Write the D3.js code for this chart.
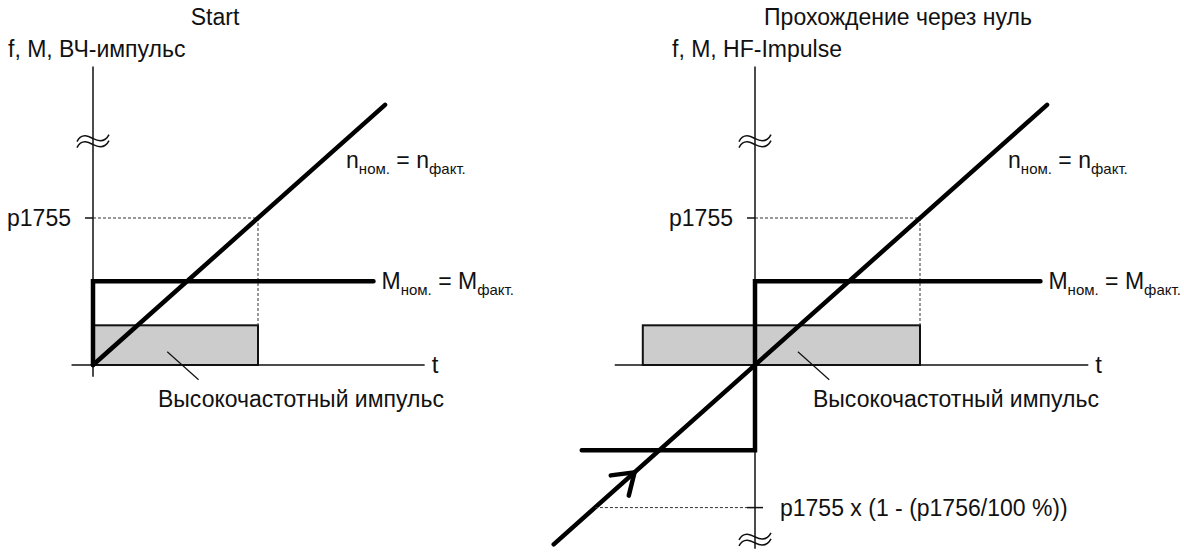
<!DOCTYPE html>
<html>
<head>
<meta charset="utf-8">
<script src="https://cdnjs.cloudflare.com/ajax/libs/d3/7.8.5/d3.min.js"></script>
<style>
  body { margin: 0; background: #fff; }
  text { font-family: "Liberation Sans", Arial, sans-serif; fill: #111; }
</style>
</head>
<body>
<div id="chart"></div>
<script>
// values, in units of p1755 (y) and pulse length (t)
const titles = ["Start", "Прохождение через нуль"];
const yLabels = ["f, M, ВЧ-импульс", "f, M, HF-Impulse"];
const pulseLabel = "Высокочастотный импульс";
const lowLabel = "p1755 x (1 - (p1756/100 %))";
const levelP1755 = 1;
const levelLow = -0.97;

// left panel: start
const leftN = [[0, 0], [1.77, 1.77]];
const leftM = [[0, 0], [0, 0.57], [1.70, 0.57]];
const leftPulse = [0, 1, 0.27];         // t from, t to, height
const leftAxisX = [-0.13, 2.01];
const leftAxisY = [-0.08, 2.03];
const leftBreaks = [1.52];
const leftPointer = [0.45, 0.64];

// right panel: zero crossing
const rightN = [[-1.22, -1.22], [1.77, 1.77]];
const rightM = [[-1.05, -0.58], [0, -0.58], [0, 0.57], [1.73, 0.57]];
const rightPulse = [-0.68, 1, 0.27];
const rightAxisX = [-0.85, 2.02];
const rightAxisY = [-1.25, 2.03];
const rightBreaks = [1.52, -1.19];
const rightPointer = [0.26, 0.45];
const arrowAt = -0.73;

const width = 1184, height = 558;
const fs = 23, fsSub = 15;
const svg = d3.select("#chart").append("svg")
    .attr("width", width)
    .attr("height", height);

const y = d3.scaleLinear().domain([0, 1]).range([365, 218]);

function eqLabel(g, x0, y0, main, sub1, sub2) {
    const t = g.append("text").attr("x", x0).attr("y", y0).attr("font-size", fs);
    t.append("tspan").text(main);
    t.append("tspan").attr("font-size", fsSub).attr("dy", 6).text(sub1);
    t.append("tspan").attr("dy", -6).text(" = " + main);
    t.append("tspan").attr("font-size", fsSub).attr("dy", 6).text(sub2);
}

function drawPanel(p) {
    const x = d3.scaleLinear().domain([0, 1]).range([p.x0, p.x0 + 165]);
    const g = svg.append("g");
    const line = d3.line().x(d => x(d[0])).y(d => y(d[1]));

    // pulse rectangle
    g.append("rect")
        .attr("x", x(p.pulse[0]))
        .attr("y", y(p.pulse[2]))
        .attr("width", x(p.pulse[1]) - x(p.pulse[0]))
        .attr("height", y(0) - y(p.pulse[2]))
        .attr("fill", "#cccccc")
        .attr("stroke", "#111")
        .attr("stroke-width", 2);

    // dashed guides to p1755
    g.append("path")
        .attr("d", line([[0, levelP1755], [1, levelP1755], [1, p.pulse[2]]]))
        .attr("fill", "none")
        .attr("stroke", "#333")
        .attr("stroke-width", 1)
        .attr("stroke-dasharray", "3,2");

    // axes
    g.append("line")
        .attr("x1", x(p.axisX[0])).attr("x2", x(p.axisX[1]))
        .attr("y1", y(0)).attr("y2", y(0))
        .attr("stroke", "#111").attr("stroke-width", 1.5);
    g.append("line")
        .attr("x1", x(0)).attr("x2", x(0))
        .attr("y1", y(p.axisY[0])).attr("y2", y(p.axisY[1]))
        .attr("stroke", "#111").attr("stroke-width", 1.5);

    // p1755 tick
    g.append("line")
        .attr("x1", x(0) - 8).attr("x2", x(0))
        .attr("y1", y(levelP1755)).attr("y2", y(levelP1755))
        .attr("stroke", "#111").attr("stroke-width", 1.5);
    g.append("text")
        .attr("x", x(0) - 22).attr("y", y(levelP1755) + 8)
        .attr("text-anchor", "end")
        .attr("font-size", fs)
        .text("p1755");

    // axis breaks
    p.breaks.forEach(b => {
        const cx = x(0), cy = y(b);
        [-3, 3].forEach(off => {
            g.append("path")
                .attr("d", `M${cx - 16},${cy + off + 3} C${cx - 11},${cy + off - 7} ${cx - 2},${cy + off - 1} ${cx},${cy + off}` +
                    ` S${cx + 11},${cy + off + 6} ${cx + 16},${cy + off - 4}`)
                .attr("fill", "none")
                .attr("stroke", "#111")
                .attr("stroke-width", 1.5);
        });
    });

    // M and n curves
    g.append("path")
        .attr("d", line(p.M))
        .attr("fill", "none").attr("stroke", "#000")
        .attr("stroke-width", 4.5)
        .attr("stroke-linecap", "round").attr("stroke-linejoin", "miter");
    g.append("path")
        .attr("d", line(p.N))
        .attr("fill", "none").attr("stroke", "#000")
        .attr("stroke-width", 4.5)
        .attr("stroke-linecap", "round");

    // pointer to pulse label
    g.append("line")
        .attr("x1", x(p.pointer[0])).attr("y1", y(0.09))
        .attr("x2", x(p.pointer[1])).attr("y2", y(-0.1))
        .attr("stroke", "#111").attr("stroke-width", 1.2);
    g.append("text")
        .attr("x", x(0) + p.pulseLabelOff).attr("y", y(0) + 42)
        .attr("font-size", fs)
        .text(pulseLabel);

    // "t"
    g.append("text")
        .attr("x", x(p.axisX[1]) + 7).attr("y", y(0) + 8)
        .attr("font-size", fs + 1)
        .text("t");

    // equation labels
    const last = p.N[p.N.length - 1];
    eqLabel(g, x(last[0]) - 39, y(last[1]) + 63, "n", "ном.", "факт.");
    const mEnd = p.M[p.M.length - 1];
    eqLabel(g, x(mEnd[0]) + 8, y(mEnd[1]) + 8, "M", "ном.", "факт.");

    // titles
    svg.append("text")
        .attr("x", p.titleX).attr("y", 25)
        .attr("text-anchor", "middle")
        .attr("font-size", fs)
        .text(p.title);
    svg.append("text")
        .attr("x", x(0) - p.yLabelOff).attr("y", 57)
        .attr("font-size", fs)
        .text(p.yLabel);

    return x;
}

drawPanel({
    x0: 93, N: leftN, M: leftM, pulse: leftPulse,
    axisX: leftAxisX, axisY: leftAxisY, breaks: leftBreaks,
    pointer: leftPointer, pulseLabelOff: 65,
    title: titles[0], titleX: 215, yLabel: yLabels[0], yLabelOff: 85
});

const xr = drawPanel({
    x0: 755, N: rightN, M: rightM, pulse: rightPulse,
    axisX: rightAxisX, axisY: rightAxisY, breaks: rightBreaks,
    pointer: rightPointer, pulseLabelOff: 58,
    title: titles[1], titleX: 898, yLabel: yLabels[1], yLabelOff: 83
});

// lower level on the right panel
svg.append("line")
    .attr("x1", xr(levelLow)).attr("x2", xr(0))
    .attr("y1", y(levelLow)).attr("y2", y(levelLow))
    .attr("stroke", "#333").attr("stroke-width", 1)
    .attr("stroke-dasharray", "3,2");
svg.append("line")
    .attr("x1", xr(0) - 8).attr("x2", xr(0) + 8)
    .attr("y1", y(levelLow)).attr("y2", y(levelLow))
    .attr("stroke", "#111").attr("stroke-width", 1.5);
svg.append("text")
    .attr("x", xr(0) + 25).attr("y", y(levelLow) + 8)
    .attr("font-size", fs)
    .text(lowLabel);

// arrow head on the rising n line
const tipX = xr(arrowAt), tipY = y(arrowAt);
const ang = Math.atan2(y(arrowAt) - y(arrowAt - 1), xr(arrowAt) - xr(arrowAt - 1));
const wing = 24, spread = 0.6;
const w1 = [tipX - wing * Math.cos(ang - spread), tipY - wing * Math.sin(ang - spread)];
const w2 = [tipX - wing * Math.cos(ang + spread), tipY - wing * Math.sin(ang + spread)];
svg.append("path")
    .attr("d", `M${w1[0]},${w1[1]} L${tipX},${tipY} L${w2[0]},${w2[1]}`)
    .attr("fill", "none").attr("stroke", "#000")
    .attr("stroke-width", 4.5)
    .attr("stroke-linecap", "round").attr("stroke-linejoin", "miter");
</script>
</body>
</html>
